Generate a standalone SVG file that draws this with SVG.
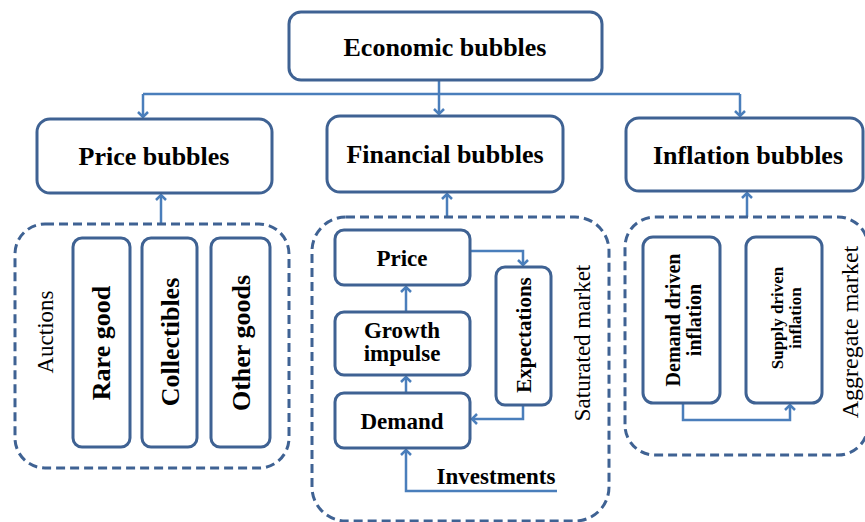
<svg xmlns="http://www.w3.org/2000/svg" width="865" height="522" viewBox="0 0 865 522">
<defs>
<style>
.box{fill:#fff;stroke:#3f6293;stroke-width:3}
.dash{fill:none;stroke:#3f6293;stroke-width:3;stroke-dasharray:9 5}
.con{fill:none;stroke:#4a7ebb;stroke-width:2.5}
text{font-family:'Liberation Serif','Times New Roman',Times,'DejaVu Serif',serif;fill:#000;text-anchor:middle}
.h{font-weight:bold;font-size:26px}
.b{font-weight:bold}
</style>
<marker id="ar" markerWidth="12" markerHeight="12" refX="6" refY="6" orient="auto" markerUnits="userSpaceOnUse">
<path d="M1,1 L6,6 L1,11" fill="none" stroke="#4a7ebb" stroke-width="2.5"/>
</marker>
</defs>
<rect width="865" height="522" fill="#fff"/>

<g id="connectors">
<path class="con" d="M439,81 V114" marker-end="url(#ar)"/>
<path class="con" d="M143,94 H740"/>
<path class="con" d="M143,94 V117" marker-end="url(#ar)"/>
<path class="con" d="M740,94 V116" marker-end="url(#ar)"/>
<path class="con" d="M161,224 V195" marker-end="url(#ar)"/>
<path class="con" d="M447,217 V194" marker-end="url(#ar)"/>
<path class="con" d="M747,217 V193" marker-end="url(#ar)"/>
<path class="con" d="M470,251 H523 V265" marker-end="url(#ar)"/>
<path class="con" d="M406,312 V287" marker-end="url(#ar)"/>
<path class="con" d="M406,393 V377" marker-end="url(#ar)"/>
<path class="con" d="M523,405 V419 H472" marker-end="url(#ar)"/>
<path class="con" d="M557,491 H406 V450" marker-end="url(#ar)"/>
<path class="con" d="M683,403 V420 H790 V405" marker-end="url(#ar)"/>
</g>

<g id="economic-bubbles">
<rect class="box" x="289" y="12" width="313" height="68" rx="12"/>
<text class="h" x="445" y="56">Economic bubbles</text>
</g>
<g id="price-bubbles">
<rect class="box" x="37" y="119" width="235" height="74" rx="13"/>
<text class="h" x="154" y="165">Price bubbles</text>
</g>
<g id="financial-bubbles">
<rect class="box" x="327" y="116" width="236" height="76" rx="13"/>
<text class="h" x="445" y="163">Financial bubbles</text>
</g>
<g id="inflation-bubbles">
<rect class="box" x="626" y="118" width="237" height="73" rx="13"/>
<text class="h" x="748" y="164">Inflation bubbles</text>
</g>

<g id="auctions-group">
<rect class="dash" x="15" y="224" width="274" height="244" rx="30"/>
<text font-size="23" transform="translate(53,332) rotate(-90)">Auctions</text>
</g>
<g id="rare-good">
<rect class="box" x="73" y="238" width="57" height="209" rx="9"/>
<text class="b" font-size="26" transform="translate(110,343) rotate(-90)">Rare good</text>
</g>
<g id="collectibles">
<rect class="box" x="142" y="238" width="55" height="209" rx="9"/>
<text class="b" font-size="26" transform="translate(179,342) rotate(-90)">Collectibles</text>
</g>
<g id="other-goods">
<rect class="box" x="211" y="238" width="59" height="209" rx="9"/>
<text class="b" font-size="26" transform="translate(250,343) rotate(-90)">Other goods</text>
</g>

<g id="saturated-market">
<rect class="dash" x="312" y="217" width="297" height="304" rx="34"/>
<text font-size="23" transform="translate(590,343) rotate(-90)">Saturated market</text>
</g>
<g id="price">
<rect class="box" x="335" y="230" width="135" height="55" rx="9"/>
<text class="b" font-size="23" x="402" y="266">Price</text>
</g>
<g id="growth-impulse">
<rect class="box" x="335" y="312" width="135" height="63" rx="9"/>
<text class="b" font-size="23" x="402" y="338">Growth</text>
<text class="b" font-size="23" x="402" y="361">impulse</text>
</g>
<g id="demand">
<rect class="box" x="335" y="393" width="135" height="55" rx="9"/>
<text class="b" font-size="23" x="402" y="429">Demand</text>
</g>
<g id="expectations">
<rect class="box" x="496" y="267" width="55" height="138" rx="9"/>
<text class="b" font-size="21" transform="translate(531,335) rotate(-90)">Expectations</text>
</g>
<g id="investments">
<text class="b" font-size="23" x="496" y="484">Investments</text>
</g>

<g id="aggregate-market">
<rect class="dash" x="625" y="217" width="243" height="238" rx="30"/>
<text font-size="24" transform="translate(858,332) rotate(-90)">Aggregate market</text>
</g>
<g id="demand-driven">
<rect class="box" x="643" y="237" width="77" height="166" rx="10"/>
<text class="b" font-size="20" transform="translate(680,320) rotate(-90)">Demand driven</text>
<text class="b" font-size="20" transform="translate(701,320) rotate(-90)">inflation</text>
</g>
<g id="supply-driven">
<rect class="box" x="746" y="237" width="76" height="166" rx="10"/>
<text class="b" font-size="17" transform="translate(783,318) rotate(-90)">Supply driven</text>
<text class="b" font-size="17" transform="translate(801,318) rotate(-90)">inflation</text>
</g>
</svg>
